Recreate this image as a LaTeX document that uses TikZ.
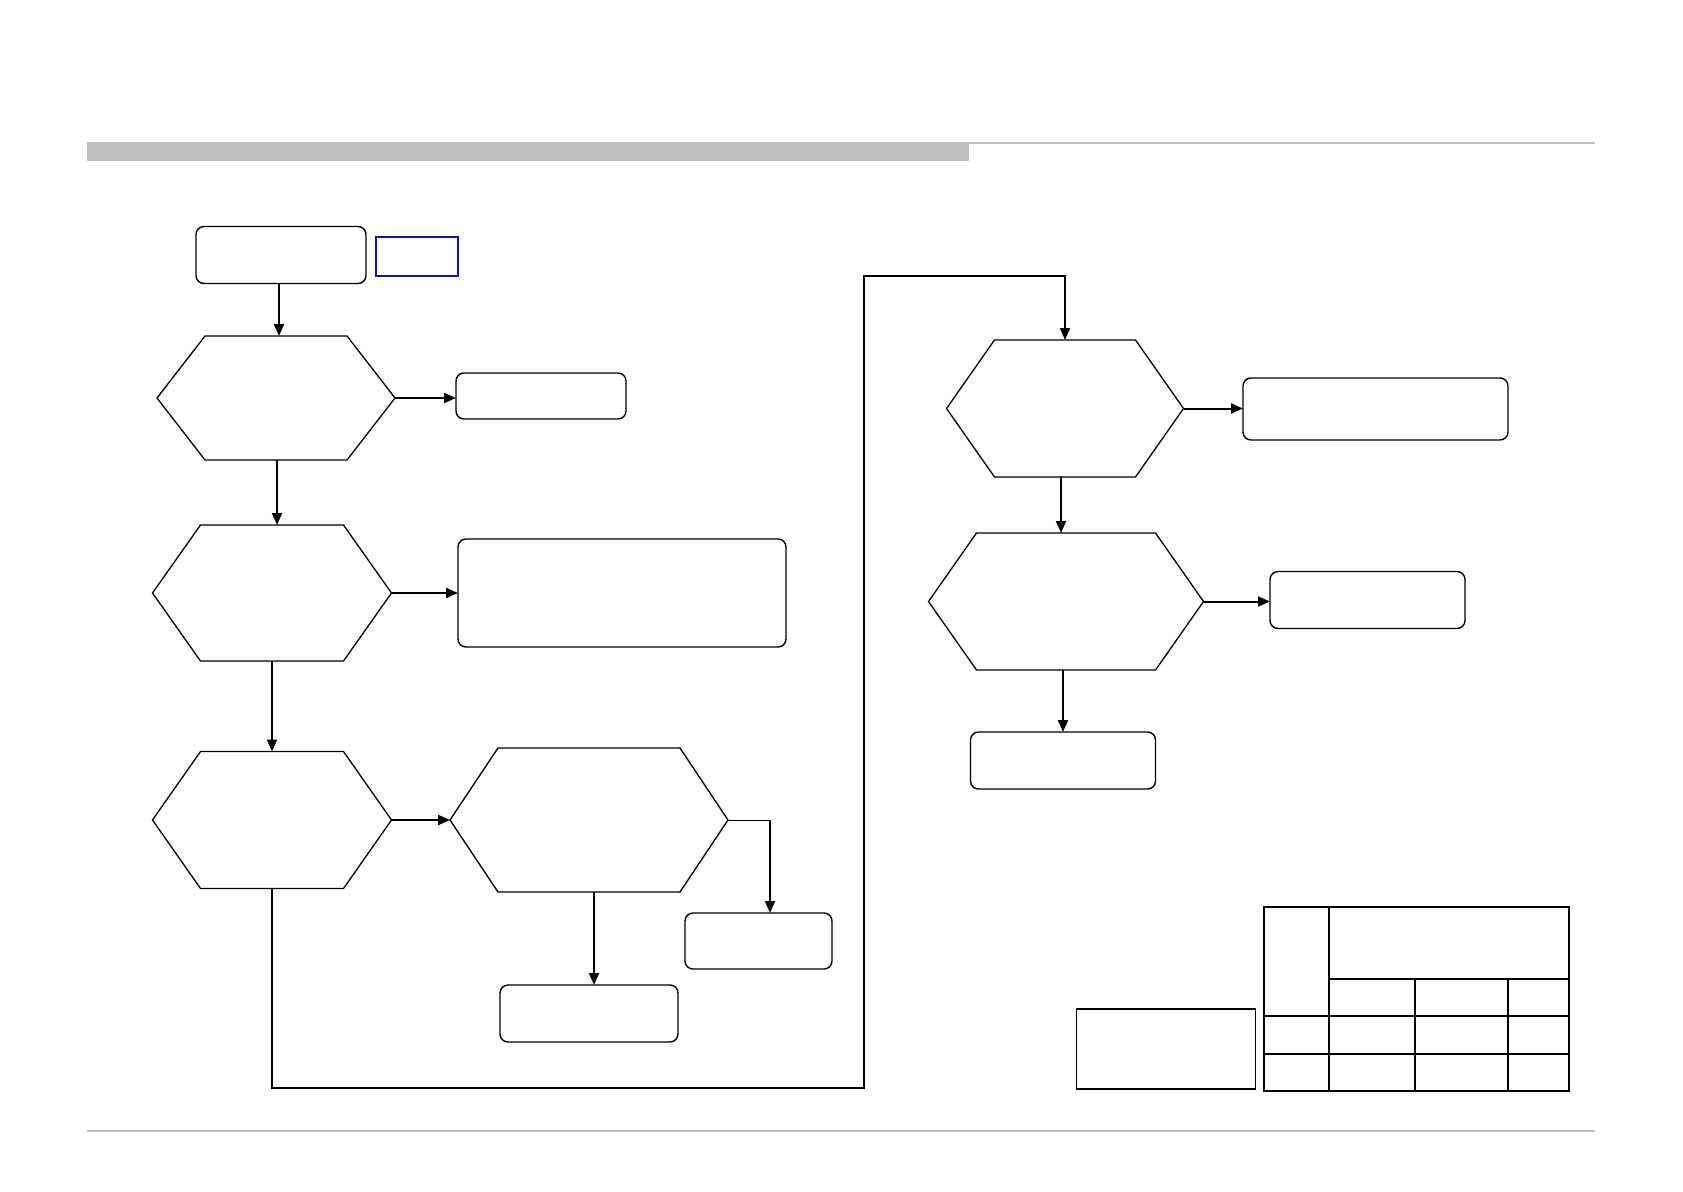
\documentclass[tikz,border=0pt]{standalone}
\usetikzlibrary{arrows.meta,calc}
\definecolor{hdrgray}{HTML}{BFBFBF}
\definecolor{tagblue}{HTML}{0A14B4}
\tikzset{
  rbox/.style={draw, line width=1.4pt, rounded corners=8pt, inner sep=0pt, outer sep=0pt},
  sbox/.style={draw, line width=1.2pt, inner sep=0pt, outer sep=0pt},
  hexnode/.style={inner sep=0pt, outer sep=0pt, draw=none},
  hexline/.style={line width=1.3pt, line join=miter},
  arr/.style={line width=2pt, -{Triangle[length=12pt,width=10pt]}},
  conn/.style={line width=2pt},
  thinconn/.style={line width=1pt},
  tbl/.style={line width=2.4pt}
}
\newcommand{\hexo}[1]{\draw[hexline] ([xshift=48pt]#1.north west) -- ([xshift=-48pt]#1.north east) -- (#1.east) -- ([xshift=-48pt]#1.south east) -- ([xshift=48pt]#1.south west) -- (#1.west) -- cycle;}
\begin{document}
\begin{tikzpicture}[x=1pt,y=-1pt]
\useasboundingbox (0,0) rectangle (1683,1191);
% header and footer
\fill[hdrgray] (87,142) rectangle (969,161);
\draw[hdrgray, line width=2pt] (87,143) -- (1595,143);
\draw[hdrgray, line width=2pt] (87,1131) -- (1595,1131);
% nodes
\node[rbox, minimum width=170pt, minimum height=57pt] (start) at (281,255) {};
\node[sbox, draw=tagblue, minimum width=82pt, minimum height=39pt] (tag) at (417,256.5) {};
\node[hexnode, minimum width=238pt, minimum height=124pt] (h1) at (276,398) {};
\node[rbox, minimum width=170pt, minimum height=46pt] (b1) at (541,396) {};
\node[hexnode, minimum width=239pt, minimum height=136pt] (h2) at (272,593) {};
\node[rbox, minimum width=328pt, minimum height=108pt] (b2) at (622,593) {};
\node[hexnode, minimum width=239pt, minimum height=137pt] (h3) at (272,820) {};
\node[hexnode, minimum width=278pt, minimum height=144pt] (h4) at (589,820) {};
\node[rbox, minimum width=147pt, minimum height=56pt] (b4r) at (758.5,941) {};
\node[rbox, minimum width=178pt, minimum height=57pt] (b4b) at (589,1013.5) {};
\node[hexnode, minimum width=237pt, minimum height=137pt] (h5) at (1065,408.5) {};
\node[rbox, minimum width=265pt, minimum height=62pt] (b5) at (1375.5,409) {};
\node[hexnode, minimum width=275pt, minimum height=137pt] (h6) at (1066,601.5) {};
\node[rbox, minimum width=195pt, minimum height=57pt] (b6r) at (1367.5,600) {};
\node[rbox, minimum width=185pt, minimum height=57pt] (b6b) at (1063,760.5) {};
\node[sbox, minimum width=179pt, minimum height=80pt] (note) at (1166,1049) {};
\hexo{h1}\hexo{h2}\hexo{h3}\hexo{h4}\hexo{h5}\hexo{h6}
% table
\draw[tbl] (1264,907) rectangle (1569,1091);
\draw[tbl] (1329,907) -- (1329,1091);
\draw[tbl] (1329,979) -- (1569,979);
\draw[tbl] (1264,1016) -- (1569,1016);
\draw[tbl] (1264,1054) -- (1569,1054);
\draw[tbl] (1415,979) -- (1415,1091);
\draw[tbl] (1508,979) -- (1508,1091);
% connectors
\draw[arr] (start.south -| 279,0) -- (279,0 |- h1.north);
\draw[arr] (h1.east) -- (b1.west |- h1.east);
\draw[arr] (h1.south -| 277,0) -- (277,0 |- h2.north);
\draw[arr] (h2.east) -- (b2.west |- h2.east);
\draw[arr] (h2.south) -- (h3.north);
\draw[arr] (h3.east) -- (h4.west);
\coordinate (k1) at (770,820);
\draw[thinconn] (h4.east) -- (k1);
\draw[arr] (k1) -- (k1 |- b4r.north);
\draw[arr] (h4.south -| 594,0) -- (594,0 |- b4b.north);
\coordinate (l1) at (272,1088);
\coordinate (l2) at (864,1088);
\coordinate (l3) at (864,276);
\coordinate (l4) at (1065,276);
\draw[conn, line join=miter] (h3.south) -- (l1) -- (l2) -- (l3) -- (l4) -- ++(0,10);
\draw[arr] ([yshift=-1pt]l4) -- (l4 |- h5.north);
\draw[arr] (h5.east) -- (b5.west |- h5.east);
\draw[arr] (h5.south -| 1061,0) -- (1061,0 |- h6.north);
\draw[arr] (h6.east) -- (b6r.west |- h6.east);
\draw[arr] (b6b.north |- h6.south) -- (b6b.north);
\end{tikzpicture}
\end{document}
